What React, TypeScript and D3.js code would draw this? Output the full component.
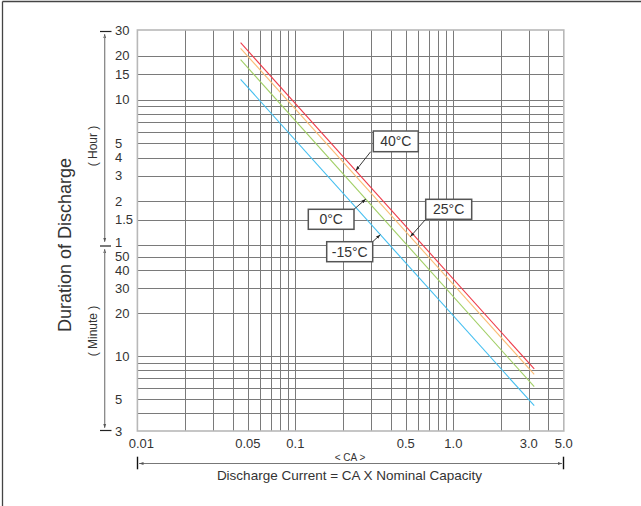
import React from 'react';
import * as d3 from 'd3';

// ---------- data ----------
const temps = ['40°C', '25°C', '0°C', '-15°C'];
const seriesColors = ['#ee3b4a', '#fbbd76', '#a2cf66', '#45bff0'];
// discharge current (CA) at the ends of each line
const currents = [0.045, 3.25];
// duration of discharge in minutes
const minutes40 = [1473, 8.16];
const minutes25 = [1348, 7.49];
const minutes0 = [1126, 6.13];
const minutesM15 = [826, 4.51];
const seriesMinutes = [minutes40, minutes25, minutes0, minutesM15];

const xGrid = [0.02, 0.03, 0.04, 0.05, 0.06, 0.07, 0.08, 0.09, 0.1, 0.2, 0.3, 0.4, 0.5, 0.6, 0.7, 0.8, 0.9, 1, 2, 3, 4];
const xTickValues = [0.01, 0.05, 0.1, 0.5, 1, 3, 5];
const xTickLabels = ['0.01', '0.05', '0.1', '0.5', '1.0', '3.0', '5.0'];
const hourGrid = [20, 15, 10, 9, 8, 7, 6, 5, 4, 3, 2, 1.5, 1];
const minuteGrid = [50, 40, 30, 20, 10, 9, 8, 7, 6, 5, 4];
const hourLabels = [30, 20, 15, 10, 5, 4, 3, 2, 1.5, 1];
const minuteLabels = [50, 40, 30, 20, 10, 5, 3];
// current at which each label's leader line touches its curve
const labelCurrents = [0.241, 0.534, 0.279, 0.345];

const FONT = '"Liberation Sans", Arial, Helvetica, sans-serif';

export default function App() {
  const W = 641, H = 506;
  const left = 137.4, right = 563.8, top = 30, bottom = 431;
  const x = d3.scaleLog().domain([0.01, 5]).range([left, right]);
  const y = d3.scaleLog().domain([3, 60, 1800]).range([bottom, 245.3, top]);
  const crisp = (v: number) => Math.round(v) + 0.5;
  const line = d3.line<[number, number]>().x(d => x(d[0])).y(d => y(d[1]));

  // label boxes layout (pixel annotations)
  const boxes = [
    { bx: 373.3, by: 131, w: 45, h: 20.7, ax: 370.7, ay: 151.7 },
    { bx: 425.7, by: 199.3, w: 46, h: 20, ax: 425.7, ay: 219.3 },
    { bx: 308.3, by: 209.3, w: 45.7, h: 20, ax: 354, ay: 209.3 },
    { bx: 326.7, by: 241.7, w: 46, h: 20, ax: 372.7, ay: 241.7 },
  ];

  const interp = (s: number[], c: number) => {
    const x0 = x(currents[0]), x1 = x(currents[1]);
    const y0 = y(s[0]), y1 = y(s[1]);
    const px = x(c);
    return [px, y0 + (px - x0) * (y1 - y0) / (x1 - x0)];
  };

  const textColor = '#333';
  const gridColor = '#7a7a7a';
  const labelNudge = (v: number, isHour: boolean) => (isHour && v === 1 ? -3 : 0);

  return (
    <div style={{ position: 'absolute', left: 0, top: 0 }}>
      <svg width={W} height={H} style={{ display: 'block', background: '#fff' }} fontFamily={FONT}>
        <defs>
          <marker id="arr" viewBox="0 0 10 10" refX="10" refY="5" markerWidth="5" markerHeight="5" orient="auto">
            <path d="M0,1.5 L10,5 L0,8.5 Z" fill="#222" />
          </marker>
          <marker id="arrG" viewBox="0 0 10 10" refX="10" refY="5" markerWidth="4" markerHeight="4" orient="auto">
            <path d="M0,1.5 L10,5 L0,8.5 Z" fill="#555" />
          </marker>
        </defs>
        {/* frame */}
        <line x1={2.5} y1={1.5} x2={W} y2={1.5} stroke="#444" strokeWidth={1.3} />
        <line x1={2.5} y1={1.5} x2={2.5} y2={H} stroke="#444" strokeWidth={1.3} />

        {/* grid */}
        {xGrid.map(v => (
          <line key={'xg' + v} x1={crisp(x(v))} x2={crisp(x(v))} y1={top} y2={bottom} stroke={gridColor} strokeWidth={1} />
        ))}
        {hourGrid.map(v => (
          <line key={'hg' + v} x1={left} x2={right} y1={crisp(y(v * 60))} y2={crisp(y(v * 60))} stroke={gridColor} strokeWidth={1} />
        ))}
        {minuteGrid.map(v => (
          <line key={'mg' + v} x1={left} x2={right} y1={crisp(y(v))} y2={crisp(y(v))} stroke={gridColor} strokeWidth={1} />
        ))}
        <rect x={left} y={top} width={right - left} height={bottom - top} fill="none" stroke="#b8b8b8" strokeWidth={1.6} />

        {/* series */}
        {seriesMinutes.map((s, i) => (
          <path key={temps[i]} d={line(currents.map((c, j) => [c, s[j]]) as [number, number][]) || ''}
            fill="none" stroke={seriesColors[i]} strokeWidth={1.1} />
        ))}

        {/* labels */}
        {boxes.map((b, i) => {
          const [tx, ty] = interp(seriesMinutes[i], labelCurrents[i]);
          return (
            <g key={'lab' + i}>
              <line x1={b.ax} y1={b.ay} x2={tx} y2={ty} stroke="#222" strokeWidth={0.9} markerEnd="url(#arr)" />
              <rect x={b.bx} y={b.by} width={b.w} height={b.h} fill="#fff" stroke="#555" strokeWidth={1.5} />
              <text x={b.bx + b.w / 2} y={b.by + b.h / 2} dy="0.36em" textAnchor="middle" fontSize={14} fill={textColor}>{temps[i]}</text>
            </g>
          );
        })}

        {/* y axis labels */}
        {hourLabels.map(v => (
          <text key={'hl' + v} x={115} y={y(v * 60) + labelNudge(v, true)} dy="0.36em" fontSize={13} fill={textColor}>{String(v)}</text>
        ))}
        {minuteLabels.map(v => (
          <text key={'ml' + v} x={115} y={y(v) + labelNudge(v, false)} dy="0.36em" fontSize={13} fill={textColor}>{String(v)}</text>
        ))}

        {/* left brackets */}
        <line x1={100} x2={111.5} y1={31.5} y2={31.5} stroke="#222" strokeWidth={1.2} />
        <line x1={100} x2={111} y1={246} y2={246} stroke="#222" strokeWidth={1.2} />
        <line x1={100} x2={111.5} y1={430.5} y2={430.5} stroke="#222" strokeWidth={1.2} />
        <line x1={104.7} x2={104.7} y1={241} y2={34} stroke="#888" strokeWidth={1} markerEnd="url(#arrG)" />
        <line x1={104.7} x2={104.7} y1={36} y2={242} stroke="#888" strokeWidth={1} markerEnd="url(#arrG)" />
        <line x1={104.7} x2={104.7} y1={427} y2={249} stroke="#888" strokeWidth={1} markerEnd="url(#arrG)" />
        <line x1={104.7} x2={104.7} y1={251} y2={428} stroke="#888" strokeWidth={1} markerEnd="url(#arrG)" />

        {/* y titles */}
        <text transform="translate(71,245) rotate(-90)" textAnchor="middle" fontSize={18} fill={textColor}>Duration of Discharge</text>
        <text transform="translate(97,146) rotate(-90)" textAnchor="middle" fontSize={12} fill={textColor}>( Hour )</text>
        <text transform="translate(97,331) rotate(-90)" textAnchor="middle" fontSize={12} fill={textColor}>( Minute )</text>

        {/* x axis labels */}
        {xTickValues.map((v, i) => (
          <text key={'xl' + v} x={x(v) + (i === 0 ? 4 : 0)} y={443.3} dy="0.36em" textAnchor="middle" fontSize={13} fill={textColor}>{xTickLabels[i]}</text>
        ))}
        <text x={350} y={457.3} dy="0.36em" textAnchor="middle" fontSize={10} fill={textColor}>{'< CA >'}</text>
        <line x1={139} x2={562} y1={463.5} y2={463.5} stroke="#777" strokeWidth={1} />
        <line x1={150} x2={139.5} y1={463.5} y2={463.5} stroke="#777" strokeWidth={1} markerEnd="url(#arrG)" />
        <line x1={550} x2={562} y1={463.5} y2={463.5} stroke="#777" strokeWidth={1} markerEnd="url(#arrG)" />
        <line x1={137.5} x2={137.5} y1={456.7} y2={469.3} stroke="#111" strokeWidth={1.4} />
        <line x1={563.5} x2={563.5} y1={456.7} y2={469.3} stroke="#111" strokeWidth={1.4} />
        <text x={349.5} y={475} dy="0.36em" textAnchor="middle" fontSize={13.5} fill={textColor}>Discharge Current = CA X Nominal Capacity</text>
      </svg>
    </div>
  );
}
